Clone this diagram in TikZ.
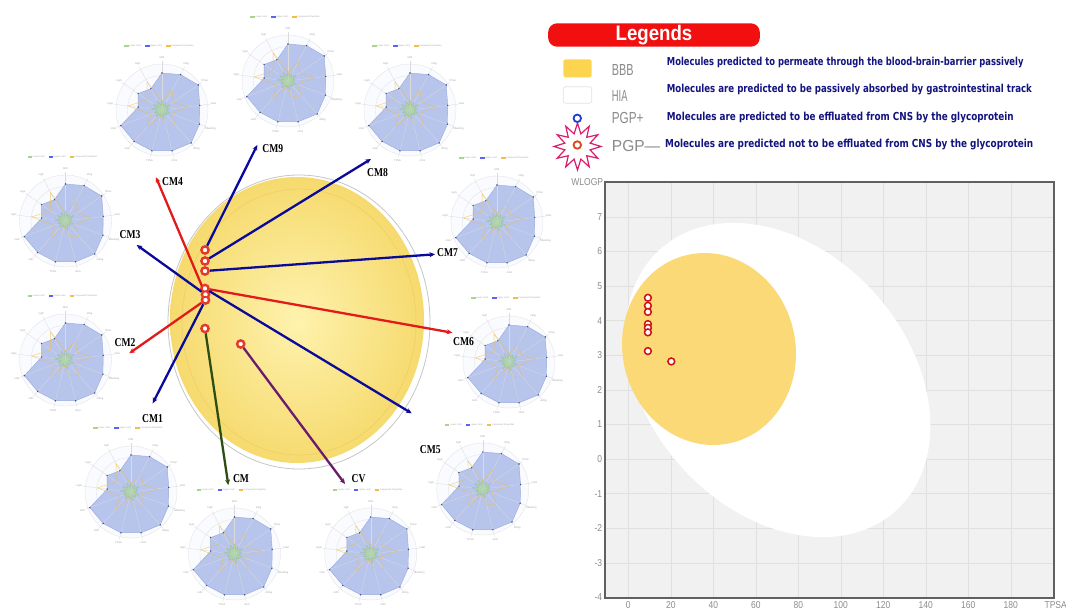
\documentclass[tikz,border=0pt]{standalone}
\usepackage{fontspec}
\usepackage{graphicx}
\setmainfont{Liberation Serif}
\newfontfamily\arialf{Liberation Sans}
\newfontfamily\descf{DejaVu Sans}
\usetikzlibrary{arrows.meta,shapes.geometric}

\definecolor{navyln}{HTML}{0A0A9A}
\definecolor{redln}{HTML}{E31A1A}
\definecolor{greenln}{HTML}{2E4D12}
\definecolor{purpln}{HTML}{6A1B6E}
\definecolor{chartblue}{HTML}{B7C4EC}
\definecolor{chartedge}{HTML}{97A9DD}
\definecolor{chartdot}{HTML}{3D4D80}
\definecolor{chartgreen}{HTML}{A6D68E}
\definecolor{chartorange}{HTML}{F0BE4C}
\definecolor{ringgrey}{HTML}{E2E2E8}
\definecolor{yolk}{HTML}{FCD977}
\definecolor{plotbg}{HTML}{F1F1F1}
\definecolor{gridgrey}{HTML}{E0E0E0}
\definecolor{ticktxt}{HTML}{8C8C8C}
\definecolor{legred}{HTML}{F20F0F}
\definecolor{legblue}{HTML}{141480}
\definecolor{starmag}{HTML}{D81E6E}
\definecolor{pgpblue}{HTML}{1E3FD0}
\definecolor{pgpred}{HTML}{E0441A}
\definecolor{mkred}{HTML}{E53A2A}
\definecolor{ptred}{HTML}{CC1111}
\definecolor{yelA}{HTML}{FEF2AE}
\definecolor{yelB}{HTML}{F6DA6E}
\definecolor{bbbyellow}{HTML}{FDD44F}
\definecolor{greytxt}{HTML}{8A8A8A}

\tikzset{
 ringln/.style={draw=ringgrey, line width=0.35pt},
 spokeln/.style={draw=gray!28, line width=0.3pt},
 tinylbl/.style={font=\arialf\fontsize{2.6}{3}\selectfont, text=gray!70, inner sep=0pt},
 tinyleg/.style={font=\arialf\fontsize{2.3}{3}\selectfont, text=gray!70, inner sep=0pt, anchor=west},
 conn/.style={line width=2.3pt, -{Stealth[length=5.5pt,width=5pt]}},
 mk/.style={circle, draw=mkred, line width=1.7pt, fill=white, minimum size=8pt, inner sep=0pt},
 cmlbl/.style={font=\bfseries\fontsize{12}{12}\selectfont, inner sep=0pt, text=black},
 desc/.style={font=\descf\bfseries\fontsize{11}{11}\selectfont, text=legblue, inner sep=0pt, anchor=west},
 greylbl/.style={font=\arialf\fontsize{16}{16}\selectfont, text=greytxt, inner sep=0pt, anchor=west},
 ticklbl/.style={font=\arialf\fontsize{10}{10}\selectfont, text=ticktxt, inner sep=0pt},
 ptmk/.style={circle, draw=ptred, line width=1.5pt, fill=white, minimum size=6.8pt, inner sep=0pt},
}

\newcommand\hs[1]{\scalebox{0.8}[1]{#1}}

\newcommand\radarchart[3]{%
\begin{scope}[shift={(#2,#3)}]
 \fill[white!93!chartblue] (0,0) circle[radius=46];
 \foreach \rr in {11.5,23,34.5,46}{\draw[ringln] (0,0) circle[radius=\rr];}
 \fill[chartblue, draw=chartedge, line width=0.4pt] (-90:37) -- (-62.31:40) -- (-34.62:44) -- (-6.92:38) -- (20.77:40) -- (48.46:44) -- (76.15:42) -- (103.85:42) -- (131.54:42) -- (159.23:44) -- (186.92:24) -- (214.62:29) -- (242.31:24) -- cycle;
 \foreach \k in {0,...,12}{\draw[spokeln] (0,0) -- ({-90+\k*27.6923}:49);}
 \fill[chartgreen, draw=chartgreen!85!black, line width=0.25pt, fill opacity=0.6, draw opacity=0.7] (-90:10) -- (-76.15:5) -- (-62.31:8) -- (-48.46:4.5) -- (-34.62:10) -- (-20.77:5) -- (-6.92:7) -- (6.92:4) -- (20.77:9) -- (34.62:5) -- (48.46:7) -- (62.31:4) -- (76.15:9) -- (90:5) -- (103.85:7) -- (117.69:4.5) -- (131.54:9) -- (145.38:5) -- (159.23:8) -- (173.08:5) -- (186.92:11) -- (200.77:5) -- (214.62:10) -- (228.46:5) -- (242.31:10) -- (256.15:5) -- cycle;
 \draw[chartorange, line width=0.4pt, opacity=0.8] (-90:8) -- (-62.31:22) -- (-34.62:14) -- (-6.92:26) -- (20.77:10) -- (48.46:20) -- (76.15:16) -- (103.85:6) -- (131.54:22) -- (159.23:12) -- (186.92:34) -- (214.62:18) -- (242.31:32) -- cycle;
 \foreach \a/\r in {-90/37,-62.31/40,-34.62/44,-6.92/38,20.77/40,48.46/44,76.15/42,103.85/42,131.54/42,159.23/44,186.92/24,214.62/29,242.31/24}{\fill[chartdot] (\a:\r) circle[radius=0.8];}
 \foreach \k/\nm in {0/MW,1/nRig,2/fChar,3/nHet,4/MaxRing,5/nRing,6/nRot,7/TPSA,8/nHD,9/nHA,10/logD,11/logS,12/logP}{\node[tinylbl] (#1l\k) at ({-90+\k*27.6923}:52) {\nm};}
 \fill[chartgreen] (-38,-65.3) rectangle (-33.5,-62.7);
 \node[tinyleg] (#1g1) at (-33,-64) {Lower Limit};
 \fill[chartblue!50!blue] (-17,-65.3) rectangle (-12.5,-62.7);
 \node[tinyleg] (#1g2) at (-12,-64) {Upper Limit};
 \fill[chartorange] (4,-65.3) rectangle (8.5,-62.7);
 \node[tinyleg] (#1g3) at (9,-64) {Compound Properties};
\end{scope}}

\begin{document}
\begin{tikzpicture}[x=1pt, y=-1pt]
\useasboundingbox (0,0) rectangle (1066,610);
\clip (0,0) rectangle (1066,610);
\fill[white] (0,0) rectangle (1066,610);

% ---------- radar charts ----------
\radarchart{rA}{288}{81}
\radarchart{rB}{162}{110}
\radarchart{rC}{410}{110}
\radarchart{rD}{65.5}{221}
\radarchart{rE}{497}{222}
\radarchart{rF}{65.5}{360}
\radarchart{rG}{509}{362}
\radarchart{rH}{131}{492}
\radarchart{rI}{234.5}{554}
\radarchart{rJ}{370.7}{554}
\radarchart{rK}{482.8}{489}

% ---------- central egg ----------
\fill[white, draw=gray!45, line width=0.8pt] (299,322) ellipse [x radius=131, y radius=147];
\shade[inner color=yelA, outer color=yelB] (297,320) ellipse [x radius=127, y radius=143];
\draw[yelB!75!brown, line width=0.7pt, opacity=0.5] (299,322) ellipse [x radius=117, y radius=133];

% markers
\node[mk] (m1) at (205,250) {};
\node[mk] (m2) at (205,261) {};
\node[mk] (m3) at (205,271) {};
\node[mk] (m4) at (205,288.5) {};
\node[mk] (m5) at (205.5,294.5) {};
\node[mk] (m6) at (205.5,300) {};
\node[mk] (m7) at (205,328.5) {};
\node[mk] (m8) at (240.7,344) {};

% arrow tips
\coordinate (t9) at (257.3,145);
\coordinate (t8) at (371,159);
\coordinate (t7) at (435,254.3);
\coordinate (t6) at (452.3,332.7);
\coordinate (t5) at (411.7,413.3);
\coordinate (t4) at (156,177.3);
\coordinate (t3) at (136.7,245);
\coordinate (t2) at (129.3,353.3);
\coordinate (t1) at (152.7,403.3);
\coordinate (tcm) at (228.3,485);
\coordinate (tcv) at (345,484);

\draw[conn, navyln] (m1) -- (t9);
\draw[conn, navyln] (m2) -- (t8);
\draw[conn, navyln] (m3) -- (t7);
\draw[conn, redln] (m4) -- (t6);
\draw[conn, navyln] (m4) -- (t5);
\draw[conn, redln] (m5) -- (t4);
\draw[conn, navyln] (m5) -- (t3);
\draw[conn, redln] (m6) -- (t2);
\draw[conn, navyln] (m6) -- (t1);
\draw[conn, greenln] (m7) -- (tcm);
\draw[conn, purpln] (m8) -- (tcv);

% redraw markers on top
\foreach \mm in {m1,m2,m3,m4,m5,m6,m7,m8}{\draw[mkred, line width=1.7pt, fill=white] (\mm.center) circle[radius=3.2];}

% labels
\node[cmlbl] (l9) at (272.8,149) {\hs{CM9}};
\node[cmlbl] (l8) at (377.6,172.5) {\hs{CM8}};
\node[cmlbl] (l7) at (447.5,252.5) {\hs{CM7}};
\node[cmlbl] (l6) at (463.5,341.7) {\hs{CM6}};
\node[cmlbl] (l5) at (430.3,450) {\hs{CM5}};
\node[cmlbl] (l4) at (172.5,181.7) {\hs{CM4}};
\node[cmlbl] (l3) at (130,235) {\hs{CM3}};
\node[cmlbl] (l2) at (125,342.3) {\hs{CM2}};
\node[cmlbl] (l1) at (152.5,418.3) {\hs{CM1}};
\node[cmlbl] (lcm) at (241,478.3) {\hs{CM}};
\node[cmlbl] (lcv) at (358.5,478.3) {\hs{CV}};

% ---------- legend ----------
\node[fill=legred, rounded corners=9pt, minimum width=211.7pt, minimum height=23.4pt, inner sep=0pt, text=white, font=\arialf\bfseries\fontsize{21}{21}\selectfont] (legbar) at (654,35) {\resizebox{76.7pt}{\height}{Legends}};

\node[fill=bbbyellow, rounded corners=2.5pt, minimum width=28.4pt, minimum height=18pt, inner sep=0pt] (bbbsq) at (577.5,68.3) {};
\node[fill=white, draw=gray!22, line width=0.8pt, rounded corners=2.5pt, minimum width=28.4pt, minimum height=16.6pt, inner sep=0pt] (hiasq) at (577.5,95) {};
\node[star, star points=12, star point ratio=1.8, draw=starmag, line width=1.2pt, fill=white, minimum size=47pt, inner sep=0pt] (burst) at (577.5,146.5) {};
\node[circle, draw=pgpblue, line width=1.8pt, fill=white, minimum size=7.5pt, inner sep=0pt] (pgpplus) at (577.3,118.3) {};
\node[circle, draw=pgpred, line width=1.8pt, fill=white, minimum size=7.5pt, inner sep=0pt] (pgpminus) at (577.3,145) {};

\node[greylbl] (bbbt) at (611.7,70) {\resizebox{21.7pt}{\height}{BBB}};
\node[greylbl] (hiat) at (611.7,95.5) {\resizebox{15.6pt}{\height}{HIA}};
\node[greylbl] (pgppt) at (611.7,118.3) {\resizebox{31.7pt}{\height}{PGP+}};
\node[greylbl] (pgpmt) at (611.7,145.5) {\resizebox{48.3pt}{\height}{PGP—}};

\node[desc] (desc1) at (666.7,62.5) {\resizebox{356.6pt}{\height}{Molecules predicted to permeate through the blood-brain-barrier passively}};
\node[desc] (desc2) at (666.7,89.5) {\resizebox{365pt}{\height}{Molecules are predicted to be passively absorbed by gastrointestinal track}};
\node[desc] (desc3) at (666.7,117.5) {\resizebox{346.7pt}{\height}{Molecules are predicted to be effluated from CNS by the glycoprotein}};
\node[desc] (desc4) at (665,145) {\resizebox{368pt}{\height}{Molecules are predicted not to be effluated from CNS by the glycoprotein}};

% ---------- BOILED-Egg plot ----------
\begin{scope}[shift={(628.3,459)}, x=2.125pt, y=34.6pt]
 \fill[plotbg] (-10.96,8) rectangle (200.3,-4.0);
 \foreach \v in {0,20,...,200}{\draw[gridgrey, line width=0.6pt] (\v,8) -- (\v,-4);}
 \foreach \v in {-3,...,7}{\draw[gridgrey, line width=0.6pt] (-10.96,\v) -- (200.3,\v);}
\end{scope}
\fill[white] (778,380) ellipse [x radius=176, y radius=130, rotate=-48];
\fill[yolk] (709,349) ellipse [x radius=86.4, y radius=96.5, rotate=13.3];
\begin{scope}[shift={(628.3,459)}, x=2.125pt, y=34.6pt]
 \node[ptmk] (p1) at (9.23,4.66) {};
 \node[ptmk] (p2) at (9.23,4.43) {};
 \node[ptmk] (p3) at (9.23,4.25) {};
 \node[ptmk] (p4) at (9.23,3.90) {};
 \node[ptmk] (p5) at (9.23,3.79) {};
 \node[ptmk] (p6) at (9.23,3.66) {};
 \node[ptmk] (p7) at (9.23,3.12) {};
 \node[ptmk] (p8) at (20.23,2.82) {};
 \foreach \v in {0,20,...,180}{\node[ticklbl] (xt\v) at (\v,-4.22) {\scalebox{0.85}[1]{\v}};}
 \node[ticklbl, anchor=west] (xname) at (195.8,-4.22) {\scalebox{0.85}[1]{TPSA}};
 \foreach \v in {-4,...,7}{\node[ticklbl, anchor=east] (yt\v) at (-12.2,\v) {\scalebox{0.85}[1]{\v}};}
 \node[ticklbl, anchor=east] (yname) at (-11.8,8) {\scalebox{0.85}[1]{WLOGP}};
\end{scope}
\draw[gray!75!black, line width=1.6pt] (605,182) rectangle (1054,598);

\end{tikzpicture}
\end{document}
